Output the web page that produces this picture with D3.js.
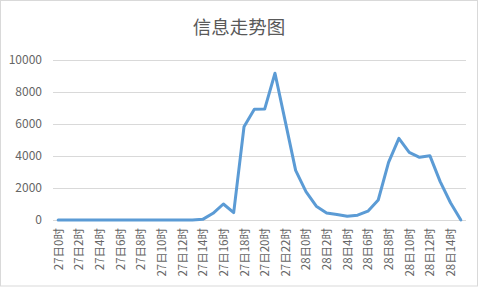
<!DOCTYPE html>
<html>
<head>
<meta charset="utf-8">
<script src="https://cdn.jsdelivr.net/npm/d3@7"></script>
<style>
  html, body { margin: 0; padding: 0; background: #fff; }
  svg { display: block; }
</style>
</head>
<body>
<div id="chart"></div>
<script>
// Data: one value per hour, 27日0时 .. 28日15时
const hours = d3.range(0, 40).map(h => h < 24 ? `27日${h}时` : `28日${h - 24}时`);
const values = [
  0, 0, 0, 0, 0, 0, 0, 0, 0, 0,
  0, 0, 0, 0, 40, 420, 1000, 460, 5830, 6920,
  6930, 9170, 6150, 3100, 1770, 860, 440, 350, 240, 300,
  550, 1250, 3600, 5100, 4230, 3920, 4020, 2400, 1080, 0
];
const yTicks = [0, 2000, 4000, 6000, 8000, 10000];
const title = "信息走势图";

const width = 480;
const height = 288;

const svg = d3.select("#chart")
  .append("svg")
    .attr("width", width)
    .attr("height", height);

// Chart border
svg.append("rect")
  .attr("x", 0.5)
  .attr("y", 0.5)
  .attr("width", 477)
  .attr("height", 285.5)
  .attr("fill", "#fff")
  .attr("stroke", "#d9d9d9");

const x = d3.scaleBand()
  .domain(hours)
  .range([53, 466])
  .padding(0);

const y = d3.scaleLinear()
  .domain([0, 10000])
  .range([220, 60]);

// Gridlines
svg.append("g")
  .selectAll("line")
  .data(yTicks)
  .join("line")
    .attr("x1", 53)
    .attr("x2", 466)
    .attr("y1", d => Math.round(y(d)) + 0.5)
    .attr("y2", d => Math.round(y(d)) + 0.5)
    .attr("stroke", "#d9d9d9")
    .attr("stroke-width", 1);

// Y labels
svg.append("g")
  .selectAll("text")
  .data(yTicks)
  .join("text")
    .attr("x", 42)
    .attr("y", d => y(d))
    .attr("dy", "0.35em")
    .attr("text-anchor", "end")
    .attr("fill", "#666")
    .style("font-family", "'Noto Sans CJK SC', 'Noto Sans', sans-serif")
    .style("font-size", "12px")
    .text(d => d);

// X labels (every 2 hours)
svg.append("g")
  .selectAll("text")
  .data(hours.filter((d, i) => i % 2 === 0))
  .join("text")
    .attr("transform", d => `translate(${x(d) + x.bandwidth() / 2 + 4.5}, 228) rotate(-90)`)
    .attr("text-anchor", "end")
    .attr("fill", "#666")
    .style("font-family", "'Noto Sans CJK SC', 'Noto Sans', sans-serif")
    .style("font-size", "11.5px")
    .text(d => d);

// Line
const line = d3.line()
  .x((d, i) => x(hours[i]) + x.bandwidth() / 2)
  .y(d => y(d));

svg.append("path")
  .datum(values)
  .attr("d", line)
  .attr("fill", "none")
  .attr("stroke", "#5b9bd5")
  .attr("stroke-width", 3)
  .attr("stroke-linejoin", "round")
  .attr("stroke-linecap", "round");

// Title
svg.append("text")
  .attr("x", 239)
  .attr("y", 28)
  .attr("dy", "0.35em")
  .attr("text-anchor", "middle")
  .attr("fill", "#595959")
  .style("font-family", "'Noto Sans CJK SC', sans-serif")
  .style("font-size", "18.5px")
  .text(title);
</script>
</body>
</html>
